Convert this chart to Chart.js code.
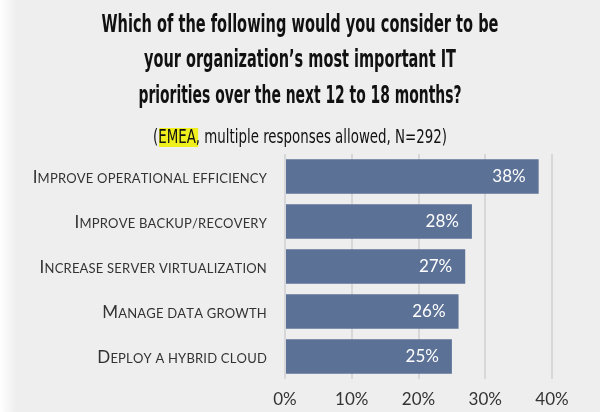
<!DOCTYPE html>
<html>
<head>
<meta charset="utf-8">
<script src="https://cdn.jsdelivr.net/npm/chart.js@4/dist/chart.umd.min.js"></script>
<style>
  html, body { margin: 0; padding: 0; }
  body { width: 600px; height: 412px; overflow: hidden;
         background: linear-gradient(to right, #ffffff 0px, #eeeeef 16px, #eeeeef 100%); }
  #wrap { position: relative; width: 600px; height: 412px; }
</style>
</head>
<body>
<div id="wrap"><canvas id="c" width="600" height="412"></canvas></div>
<script>
// ---- data ----
const categories = [
  'Improve operational efficiency',
  'Improve backup/recovery',
  'Increase server virtualization',
  'Manage data growth',
  'Deploy a hybrid cloud'
];
const values = [38, 28, 27, 26, 25];
const tickValues = [0, 10, 20, 30, 40];
const titleLines = [
  'Which of the following would you consider to be',
  'your organization\u2019s most important IT',
  'priorities over the next 12 to 18 months?'
];
const subtitleParts = ['(', 'EMEA', ', multiple responses allowed, N=292)'];

// ---- layout (styles) ----
const titleBaselines = [32, 67, 103];
const titleWidths = [397, 312, 323];
const subBaseline = 143;
const subWidth = 294;
const condensed = "'Liberation Sans Narrow', 'DejaVu Sans Condensed', 'Roboto', sans-serif";
const labelFamily = "Lato, 'Open Sans', sans-serif";

const titlePlugin = {
  id: 'titlePlugin',
  afterDraw(chart) {
    const ctx = chart.ctx;
    const cx = 300;
    ctx.save();
    ctx.fillStyle = '#111';
    ctx.textBaseline = 'alphabetic';
    ctx.textAlign = 'left';
    ctx.font = "bold 24px " + condensed;
    titleLines.forEach((t, i) => {
      const w = ctx.measureText(t).width;
      const k = titleWidths[i] / w;
      ctx.save();
      ctx.translate(cx - titleWidths[i] / 2, titleBaselines[i]);
      ctx.scale(k, 1);
      ctx.fillText(t, 0, 0);
      ctx.restore();
    });
    // subtitle
    ctx.font = "19px " + condensed;
    const full = subtitleParts.join('');
    const wFull = ctx.measureText(full).width;
    const k = subWidth / wFull;
    ctx.save();
    ctx.translate(cx - subWidth / 2, subBaseline);
    ctx.scale(k, 1);
    const w0 = ctx.measureText(subtitleParts[0]).width;
    const w1 = ctx.measureText(subtitleParts[1]).width;
    ctx.fillStyle = '#f0ef1e';
    ctx.fillRect(w0 + 1, -15, w1 + 2, 19);
    ctx.fillStyle = '#111';
    let x = 0;
    subtitleParts.forEach(p => {
      ctx.fillText(p, x, 0);
      x += ctx.measureText(p).width;
    });
    ctx.restore();
    ctx.restore();
  }
};

// small-caps category labels drawn from the y scale
const smallCapsPlugin = {
  id: 'smallCapsPlugin',
  afterDraw(chart) {
    const ctx = chart.ctx;
    const ys = chart.scales.y;
    const big = "17px " + labelFamily;
    const small = "13px " + labelFamily;
    const spacing = 0.2;
    ctx.save();
    ctx.fillStyle = '#333';
    ctx.textBaseline = 'alphabetic';
    ctx.textAlign = 'left';
    categories.forEach((label, i) => {
      const yc = ys.getPixelForTick(i);
      const chars = [...label];
      const widths = chars.map(ch => {
        const isUp = ch !== ch.toLowerCase();
        ctx.font = isUp ? big : small;
        return ctx.measureText(ch.toUpperCase()).width + spacing;
      });
      const total = widths.reduce((a, b) => a + b, 0);
      let x = chart.chartArea.left - 18 - total;
      chars.forEach((ch, j) => {
        const isUp = ch !== ch.toLowerCase();
        ctx.font = isUp ? big : small;
        ctx.fillText(ch.toUpperCase(), x, yc + 6);
        x += widths[j];
      });
    });
    ctx.restore();
  }
};

const valuePlugin = {
  id: 'valuePlugin',
  afterDatasetsDraw(chart) {
    const ctx = chart.ctx;
    const meta = chart.getDatasetMeta(0);
    ctx.save();
    ctx.fillStyle = '#ffffff';
    ctx.font = "17px " + labelFamily;
    ctx.textAlign = 'right';
    ctx.textBaseline = 'middle';
    meta.data.forEach((bar, i) => {
      ctx.fillText(values[i] + '%', bar.x - 13, bar.y);
    });
    ctx.restore();
  }
};

new Chart(document.getElementById('c'), {
  type: 'bar',
  data: {
    labels: categories,
    datasets: [{
      data: values,
      backgroundColor: '#5b7196',
      borderWidth: 0,
      barPercentage: 0.767,
      categoryPercentage: 1
    }]
  },
  options: {
    indexAxis: 'y',
    responsive: false,
    animation: false,
    devicePixelRatio: 1,
    layout: { padding: { top: 154, right: 48, bottom: 0, left: 0 } },
    plugins: { legend: { display: false }, tooltip: { enabled: false }, title: { display: false } },
    scales: {
      x: {
        min: 0, max: 40,
        afterBuildTicks(scale) { scale.ticks = tickValues.map(v => ({ value: v })); },
        afterFit(scale) { scale.height = 33; },
        grid: { color: '#d7d7d9', lineWidth: 2, drawTicks: false },
        border: { display: false },
        ticks: {
          callback: v => v + '%',
          color: '#333',
          padding: 10,
          font: { family: labelFamily, size: 17 }
        }
      },
      y: {
        afterFit(scale) { scale.width = 285; },
        grid: { display: false, drawTicks: false },
        border: { display: false },
        ticks: { display: false }
      }
    }
  },
  plugins: [titlePlugin, smallCapsPlugin, valuePlugin]
});
</script>
</body>
</html>
